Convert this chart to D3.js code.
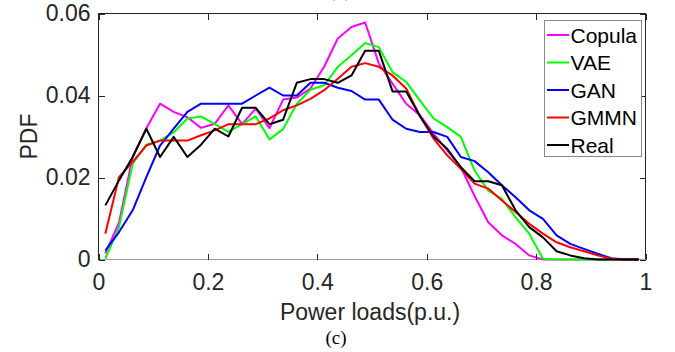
<!DOCTYPE html>
<html>
<head>
  <title>PDF of power loads</title>
  <script src="https://d3js.org/d3.v7.min.js"></script>
  <style>
    body { margin: 0; background: #fff; }
  </style>
</head>
<body>

<div id="chart"></div>

<script>
// bin centres of the load histogram (p.u.)
const loads = [
  0.0125, 0.0375, 0.0625, 0.0875, 0.1125, 0.1375, 0.1625, 0.1875, 0.2125, 0.2375,
  0.2625, 0.2875, 0.3125, 0.3375, 0.3625, 0.3875, 0.4125, 0.4375, 0.4625, 0.4875,
  0.5125, 0.5375, 0.5625, 0.5875, 0.6125, 0.6375, 0.6625, 0.6875, 0.7125, 0.7375,
  0.7625, 0.7875, 0.8125, 0.8375, 0.8625, 0.8875, 0.9125, 0.9375, 0.9625, 0.9875
];

const copula = [
  0.0015, 0.0090, 0.0250, 0.0320, 0.0380, 0.0360, 0.0347, 0.0321, 0.0331, 0.0376,
  0.0330, 0.0368, 0.0320, 0.0390, 0.0395, 0.0417, 0.0470, 0.0539, 0.0567, 0.0578,
  0.0478, 0.0429, 0.0380, 0.0352, 0.0307, 0.0266, 0.0225, 0.0155, 0.0091, 0.0059,
  0.0038, 0.0010, 0.0000, 0.0000, 0.0000, 0.0000, 0.0000, 0.0000, 0.0000, 0.0000
];

const vae = [
  0.0002, 0.0079, 0.0234, 0.0280, 0.0290, 0.0310, 0.0344, 0.0349, 0.0330, 0.0311,
  0.0330, 0.0349, 0.0293, 0.0318, 0.0380, 0.0414, 0.0425, 0.0470, 0.0498, 0.0528,
  0.0518, 0.0457, 0.0433, 0.0388, 0.0344, 0.0323, 0.0299, 0.0217, 0.0168, 0.0148,
  0.0103, 0.0063, 0.0002, 0.0000, 0.0000, 0.0000, 0.0000, 0.0000, 0.0000, 0.0000
];

const gan = [
  0.0022, 0.0067, 0.0120, 0.0201, 0.0278, 0.0319, 0.0360, 0.0380, 0.0380, 0.0380,
  0.0380, 0.0400, 0.0419, 0.0400, 0.0400, 0.0431, 0.0431, 0.0419, 0.0411, 0.0390,
  0.0390, 0.0341, 0.0319, 0.0311, 0.0311, 0.0299, 0.0250, 0.0240, 0.0213, 0.0181,
  0.0152, 0.0120, 0.0099, 0.0059, 0.0038, 0.0026, 0.0014, 0.0003, 0.0000, 0.0000
];

const gmmn = [
  0.0063, 0.0201, 0.0238, 0.0278, 0.0290, 0.0290, 0.0290, 0.0303, 0.0315, 0.0330,
  0.0330, 0.0330, 0.0344, 0.0364, 0.0376, 0.0392, 0.0413, 0.0441, 0.0470, 0.0479,
  0.0470, 0.0449, 0.0417, 0.0350, 0.0295, 0.0254, 0.0221, 0.0185, 0.0173, 0.0144,
  0.0116, 0.0087, 0.0063, 0.0042, 0.0030, 0.0020, 0.0010, 0.0002, 0.0000, 0.0000
];

const real = [
  0.0132, 0.0193, 0.0250, 0.0319, 0.0250, 0.0299, 0.0250, 0.0280, 0.0319, 0.0300,
  0.0370, 0.0370, 0.0330, 0.0341, 0.0431, 0.0440, 0.0440, 0.0431, 0.0449, 0.0509,
  0.0509, 0.0410, 0.0410, 0.0350, 0.0300, 0.0270, 0.0225, 0.0191, 0.0191, 0.0181,
  0.0120, 0.0079, 0.0054, 0.0020, 0.0010, 0.0003, 0.0000, 0.0000, 0.0000, 0.0000
];

const seriesNames = ["Copula", "VAE", "GAN", "GMMN", "Real"];
const seriesColors = ["#ff00ff", "#00ff00", "#0000ff", "#ff0000", "#000000"];
const seriesValues = [copula, vae, gan, gmmn, real];

const xTicks = [0, 0.2, 0.4, 0.6, 0.8, 1];
const xTickLabels = ["0", "0.2", "0.4", "0.6", "0.8", "1"];
const yTicks = [0, 0.02, 0.04, 0.06];
const yTickLabels = ["0", "0.02", "0.04", "0.06"];

const W = 675, H = 352;
const plot = { left: 98.5, right: 645.5, top: 13.5, bottom: 259.5 };
const axisColor = "#262626";
const sans = "'Liberation Sans', Arial, sans-serif";

const svg = d3.select("#chart")
  .append("svg")
  .attr("width", W)
  .attr("height", H);

const x = d3.scaleLinear().domain([0, 1]).range([plot.left, plot.right]);
const y = d3.scaleLinear().domain([0, 0.06]).range([plot.bottom, plot.top]);

// box: the bottom edge shows lighter in the reference
svg.append("path")
  .attr("d", `M${plot.left},${plot.bottom}V${plot.top}H${plot.right}V${plot.bottom}`)
  .attr("fill", "none")
  .attr("stroke", axisColor)
  .attr("shape-rendering", "crispEdges");

svg.append("line")
  .attr("x1", plot.left)
  .attr("x2", plot.right)
  .attr("y1", plot.bottom)
  .attr("y2", plot.bottom)
  .attr("stroke", "#9a9a9a")
  .attr("shape-rendering", "crispEdges");

// lines
const line = d3.line()
  .x(d => x(d[0]))
  .y(d => y(d[1]));

seriesValues.forEach((vals, i) => {
  svg.append("path")
    .datum(loads.map((l, j) => [l, vals[j]]))
    .attr("fill", "none")
    .attr("stroke", seriesColors[i])
    .attr("stroke-width", 2)
    .attr("stroke-linejoin", "round")
    .attr("d", line);
});

// axes, ticks pointing inward
function styleAxis(g) {
  g.select(".domain").remove();
  g.selectAll("line").attr("stroke", axisColor).attr("shape-rendering", "crispEdges");
  g.selectAll("text")
    .attr("fill", axisColor)
    .style("font-family", sans)
    .style("font-size", "23px");
}

svg.append("g")
  .attr("transform", `translate(0,${plot.bottom})`)
  .call(d3.axisBottom(x).tickValues(xTicks).tickSize(-6).tickPadding(14)
    .tickFormat((d, i) => xTickLabels[i]))
  .call(styleAxis);

svg.append("g")
  .attr("transform", `translate(0,${plot.top})`)
  .call(d3.axisTop(x).tickValues(xTicks).tickSize(-6).tickFormat(""))
  .call(styleAxis);

svg.append("g")
  .attr("transform", `translate(${plot.left},0)`)
  .call(d3.axisLeft(y).tickValues(yTicks).tickSize(-6).tickPadding(8)
    .tickFormat((d, i) => yTickLabels[i]))
  .call(styleAxis);

svg.append("g")
  .attr("transform", `translate(${plot.right},0)`)
  .call(d3.axisRight(y).tickValues(yTicks).tickSize(-6).tickFormat(""))
  .call(styleAxis);

// axis labels
svg.append("text")
  .attr("x", 370)
  .attr("y", 320)
  .attr("text-anchor", "middle")
  .attr("fill", axisColor)
  .style("font-family", sans)
  .style("font-size", "23px")
  .text("Power loads(p.u.)");

svg.append("text")
  .attr("transform", `translate(36.5,${(plot.top + plot.bottom) / 2}) rotate(-90)`)
  .attr("text-anchor", "middle")
  .attr("fill", axisColor)
  .style("font-family", sans)
  .style("font-size", "23px")
  .text("PDF");

// sub-figure captions (the one above is cut by the image edge, as in the source)
svg.append("text")
  .attr("x", 336)
  .attr("y", 344)
  .attr("text-anchor", "middle")
  .attr("fill", "#000")
  .style("font-family", "'Liberation Serif', 'Times New Roman', serif")
  .style("font-size", "19px")
  .text("(c)");

svg.append("text")
  .attr("x", 340)
  .attr("y", -3)
  .attr("text-anchor", "middle")
  .attr("fill", "#777")
  .style("font-family", "'Liberation Serif', 'Times New Roman', serif")
  .style("font-size", "19px")
  .text("(b)");

// legend
const legend = svg.append("g");
legend.append("rect")
  .attr("x", 544.5)
  .attr("y", 20.5)
  .attr("width", 97)
  .attr("height", 136)
  .attr("fill", "#fff")
  .attr("stroke", "#8a8a8a")
  .attr("stroke-width", 1)
  .attr("shape-rendering", "crispEdges");

seriesNames.forEach((name, i) => {
  const cy = 35 + i * 27.5;
  legend.append("line")
    .attr("x1", 547)
    .attr("x2", 569)
    .attr("y1", cy)
    .attr("y2", cy)
    .attr("stroke", seriesColors[i])
    .attr("stroke-width", 2);
  legend.append("text")
    .attr("x", 570.5)
    .attr("y", cy + 7.5)
    .attr("fill", "#000")
    .style("font-family", sans)
    .style("font-size", "21px")
    .text(name);
});
</script>

</body>
</html>
